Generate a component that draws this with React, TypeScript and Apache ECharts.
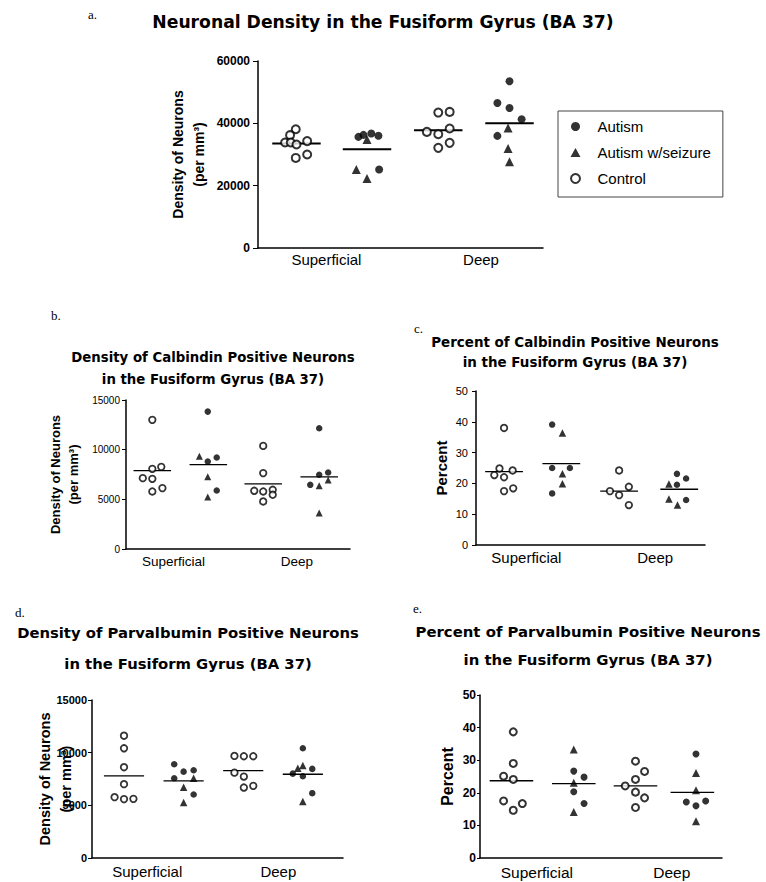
import React, { useEffect, useRef } from 'react';
import * as echarts from 'echarts';

type Pt = [number, number];

// ---- shared ----
const categories = ['Superficial', 'Deep'];
const groupNames = ['Autism', 'Autism w/seizure', 'Control'];

// ---- panel a: Neuronal density ----
const aControl: Pt[] = [
  [0.53, 38100], [0.45, 36200], [0.38, 33850], [0.46, 33850], [0.54, 33200], [0.69, 34300], [0.53, 28900], [0.69, 30000],
  [2.53, 43460], [2.69, 43660], [2.37, 37250], [2.53, 36510], [2.69, 38340], [2.53, 32130], [2.69, 33730],
];
const aAutism: Pt[] = [
  [1.41, 35650], [1.48, 36300], [1.59, 36750], [1.69, 36000], [1.70, 25200],
  [3.53, 53490], [3.36, 46550], [3.53, 44940], [3.70, 41320], [3.36, 35970],
];
const aSeizure: Pt[] = [
  [1.53, 34800], [1.38, 25200], [1.53, 22300],
  [3.51, 38530], [3.51, 31930], [3.53, 27640],
];
const aMeans: Pt[] = [[0.54, 33500], [1.53, 31700], [2.53, 37800], [3.53, 40000]];
const aLabelPos = [0.96, 3.13];

// ---- panel b: Density of calbindin ----
const bControl: Pt[] = [
  [0.47, 13000], [0.47, 8070], [0.63, 8270], [0.30, 7135], [0.47, 7065], [0.47, 5790], [0.65, 6130],
  [2.45, 10380], [2.45, 7640], [2.29, 5860], [2.45, 5790], [2.62, 5960], [2.62, 5460], [2.45, 4785],
];
const bAutism: Pt[] = [
  [1.46, 13830], [1.46, 8805], [1.62, 9210], [1.62, 5890],
  [3.45, 12160], [3.45, 7470], [3.61, 7700], [3.29, 6460],
];
const bSeizure: Pt[] = [
  [1.31, 9345], [1.46, 7265], [1.46, 5225],
  [3.61, 6935], [3.45, 6360], [3.45, 3620],
];
const bMeans: Pt[] = [[0.47, 7900], [1.47, 8500], [2.45, 6560], [3.45, 7260]];
const bLabelPos = [0.85, 3.05];

// ---- panel c: Percent of calbindin ----
const cControl: Pt[] = [
  [0.49, 38.0], [0.41, 24.85], [0.64, 24.2], [0.32, 22.7], [0.49, 22.0], [0.49, 17.5], [0.65, 18.4],
  [2.50, 24.2], [2.34, 17.5], [2.67, 18.9], [2.50, 16.2], [2.67, 12.96],
];
const cAutism: Pt[] = [
  [1.33, 39.1], [1.33, 25.0], [1.64, 25.0], [1.33, 16.75],
  [3.51, 23.1], [3.67, 21.6], [3.51, 19.55], [3.67, 14.6],
];
const cSeizure: Pt[] = [
  [1.51, 36.4], [1.51, 23.1], [1.51, 19.9],
  [3.37, 19.8], [3.37, 14.9], [3.52, 12.96],
];
const cMeans: Pt[] = [[0.49, 23.8], [1.49, 26.4], [2.50, 17.5], [3.55, 18.1]];
const cLabelPos = [0.88, 3.13];

// ---- panel d: Density of parvalbumin ----
const dControl: Pt[] = [
  [0.51, 11610], [0.51, 10415], [0.51, 8620], [0.51, 7010], [0.36, 5775], [0.51, 5590], [0.66, 5615],
  [2.27, 9690], [2.42, 9660], [2.57, 9660], [2.27, 8105], [2.42, 7730], [2.42, 6690], [2.57, 6850],
];
const dAutism: Pt[] = [
  [1.31, 8900], [1.46, 8200], [1.62, 8330], [1.31, 7575], [1.62, 6025],
  [3.36, 10415], [3.51, 8460], [3.20, 8010], [3.36, 7765], [3.51, 6155],
];
const dSeizure: Pt[] = [
  [1.62, 7575], [1.46, 6725], [1.46, 5265],
  [3.36, 8770], [3.28, 8520], [3.36, 5360],
];
const dMeans: Pt[] = [[0.51, 7800], [1.46, 7320], [2.41, 8300], [3.36, 7950]];
const dLabelPos = [0.88, 2.97];

// ---- panel e: Percent of parvalbumin ----
const eControl: Pt[] = [
  [0.55, 38.7], [0.55, 29.0], [0.39, 25.1], [0.55, 24.1], [0.39, 17.5], [0.70, 16.7], [0.55, 14.65],
  [2.57, 29.7], [2.72, 26.55], [2.57, 24.1], [2.40, 22.1], [2.57, 20.2], [2.72, 18.45], [2.57, 15.5],
];
const eAutism: Pt[] = [
  [1.55, 26.65], [1.72, 24.8], [1.55, 20.3], [1.72, 16.7],
  [3.57, 31.9], [3.41, 17.2], [3.73, 17.5], [3.57, 16.0],
];
const eSeizure: Pt[] = [
  [1.55, 33.3], [1.55, 23.05], [1.55, 14.1],
  [3.57, 26.1], [3.57, 20.8], [3.57, 11.3],
];
const eMeans: Pt[] = [[0.52, 23.7], [1.55, 22.8], [2.57, 22.1], [3.51, 20.1]];
const eLabelPos = [0.94, 3.17];

const yName = 'Density of Neurons\n(per mm³)';

const SANS = '"Liberation Sans", Arial, sans-serif';
const WIDE = '"DejaVu Sans", Verdana, sans-serif';
const SERIF = '"Liberation Serif", "Times New Roman", serif';

const panels = [
  {
    control: aControl, autism: aAutism, seizure: aSeizure, means: aMeans, labelPos: aLabelPos,
    yMax: 60000, yInterval: 20000, name: yName,
    grid: { left: 258, top: 61, width: 285, height: 187 },
    nameSize: 14, nameLH: 21, nameGap: 49,
    tickSize: 12, tickWeight: 'bold', tickMargin: 8, tickLen: 5,
    xSize: 15, xMargin: 4,
    sym: 8, ring: 2, tri: 9, meanW: 2, hw: 0.34,
  },
  {
    control: bControl, autism: bAutism, seizure: bSeizure, means: bMeans, labelPos: bLabelPos,
    yMax: 15000, yInterval: 5000, name: yName,
    grid: { left: 126, top: 400, width: 224, height: 149 },
    nameSize: 13, nameLH: 18, nameGap: 44,
    tickSize: 10, tickWeight: 'normal', tickMargin: 6, tickLen: 4,
    xSize: 13.5, xMargin: 5,
    sym: 6.5, ring: 1.8, tri: 7, meanW: 1.3, hw: 0.335,
  },
  {
    control: cControl, autism: cAutism, seizure: cSeizure, means: cMeans, labelPos: cLabelPos,
    yMax: 50, yInterval: 10, name: 'Percent',
    grid: { left: 476, top: 391, width: 229, height: 154 },
    nameSize: 15, nameLH: 18, nameGap: 26,
    tickSize: 11, tickWeight: 'normal', tickMargin: 8, tickLen: 4,
    xSize: 15, xMargin: 5,
    sym: 6.5, ring: 1.8, tri: 7.5, meanW: 1.3, hw: 0.33,
  },
  {
    control: dControl, autism: dAutism, seizure: dSeizure, means: dMeans, labelPos: dLabelPos,
    yMax: 15000, yInterval: 5000, name: yName,
    grid: { left: 92, top: 700, width: 251, height: 158 },
    nameSize: 14.5, nameLH: 21.5, nameGap: 15,
    tickSize: 11, tickWeight: 'bold', tickMargin: 5, tickLen: 4,
    xSize: 15, xMargin: 6,
    sym: 6.5, ring: 1.8, tri: 7.5, meanW: 1.3, hw: 0.32,
  },
  {
    control: eControl, autism: eAutism, seizure: eSeizure, means: eMeans, labelPos: eLabelPos,
    yMax: 50, yInterval: 10, name: 'Percent',
    grid: { left: 480, top: 695, width: 242, height: 163 },
    nameSize: 16, nameLH: 18, nameGap: 24,
    tickSize: 12, tickWeight: 'bold', tickMargin: 4, tickLen: 3,
    xSize: 15.5, xMargin: 6,
    sym: 7, ring: 2, tri: 8, meanW: 1.3, hw: 0.36,
  },
];

const titles = [
  { lines: ['Neuronal Density in the Fusiform Gyrus (BA 37)'], x: 383, y: [22], size: 17.2 },
  { lines: ['Density of Calbindin Positive Neurons', 'in the Fusiform Gyrus (BA 37)'], x: 213, y: [357, 379], size: 13.3 },
  { lines: ['Percent of Calbindin Positive Neurons', 'in the Fusiform Gyrus (BA 37)'], x: 575, y: [342, 362], size: 13.45 },
  { lines: ['Density of Parvalbumin Positive Neurons', 'in the Fusiform Gyrus (BA 37)'], x: 188, y: [632, 663], size: 14.8 },
  { lines: ['Percent of Parvalbumin Positive Neurons', 'in the Fusiform Gyrus (BA 37)'], x: 588, y: [632, 660], size: 14.9 },
];

const letters = [
  { t: 'a.', x: 88, y: 14 },
  { t: 'b.', x: 51, y: 315 },
  { t: 'c.', x: 414, y: 328 },
  { t: 'd.', x: 15, y: 612 },
  { t: 'e.', x: 413, y: 608 },
];

function buildOption(): any {
  const grid = panels.map((p) => ({ ...p.grid, containLabel: false, outerBoundsMode: 'none' }));
  const xAxis = panels.map((p, i) => ({
    gridIndex: i,
    type: 'value',
    min: 0,
    max: 4,
    axisLine: { show: true, onZero: false, lineStyle: { color: '#000', width: 1.5 } },
    axisTick: { show: false },
    splitLine: { show: false },
    axisLabel: {
      customValues: p.labelPos,
      formatter: (v: number) => (v < 2 ? categories[0] : categories[1]),
      color: '#000',
      fontSize: p.xSize,
      fontFamily: SANS,
      margin: p.xMargin,
    },
  }));
  const yAxis = panels.map((p, i) => ({
    gridIndex: i,
    type: 'value',
    min: 0,
    max: p.yMax,
    interval: p.yInterval,
    axisLine: { show: true, onZero: false, lineStyle: { color: '#000', width: 1.5 } },
    axisTick: { show: true, length: p.tickLen, lineStyle: { color: '#000', width: 1 } },
    splitLine: { show: false },
    axisLabel: {
      formatter: (v: number) => String(v),
      color: '#000',
      fontSize: p.tickSize,
      fontWeight: p.tickWeight,
      fontFamily: SANS,
      margin: p.tickMargin,
    },
    name: p.name,
    nameLocation: 'middle',
    nameRotate: 90,
    nameGap: p.nameGap,
    nameMoveOverlap: false,
    nameTextStyle: {
      color: '#000',
      fontSize: p.nameSize,
      fontWeight: 'bold',
      fontFamily: SANS,
      lineHeight: p.nameLH,
    },
  }));

  const series: any[] = [];
  panels.forEach((p, i) => {
    series.push({
      type: 'custom',
      name: 'mean',
      xAxisIndex: i,
      yAxisIndex: i,
      data: p.means,
      silent: true,
      z: 1,
      renderItem: (_params: any, api: any) => {
        const c = api.value(0);
        const m = api.value(1);
        const a = api.coord([c - p.hw, m]);
        const b = api.coord([c + p.hw, m]);
        return {
          type: 'line',
          shape: { x1: a[0], y1: a[1], x2: b[0], y2: b[1] },
          style: { stroke: '#000', lineWidth: p.meanW },
        };
      },
    });
    series.push({
      type: 'scatter',
      name: groupNames[2],
      xAxisIndex: i,
      yAxisIndex: i,
      data: p.control,
      symbol: 'circle',
      symbolSize: p.sym,
      itemStyle: { color: '#fff', borderColor: '#000', borderWidth: p.ring },
      silent: true,
      z: 3,
    });
    series.push({
      type: 'scatter',
      name: groupNames[0],
      xAxisIndex: i,
      yAxisIndex: i,
      data: p.autism,
      symbol: 'circle',
      symbolSize: p.sym,
      itemStyle: { color: '#000' },
      silent: true,
      z: 3,
    });
    series.push({
      type: 'scatter',
      name: groupNames[1],
      xAxisIndex: i,
      yAxisIndex: i,
      data: p.seizure,
      symbol: 'triangle',
      symbolSize: p.tri,
      itemStyle: { color: '#000' },
      silent: true,
      z: 3,
    });
  });

  const graphic: any[] = [];
  titles.forEach((t) => {
    t.lines.forEach((line, k) => {
      graphic.push({
        type: 'text',
        x: t.x,
        y: t.y[k],
        style: {
          text: line,
          align: 'center',
          verticalAlign: 'middle',
          fontSize: t.size,
          fontWeight: 'bold',
          fontFamily: WIDE,
          fill: '#000',
        },
      });
    });
  });
  letters.forEach((l) => {
    graphic.push({
      type: 'text',
      x: l.x,
      y: l.y,
      style: { text: l.t, align: 'left', verticalAlign: 'middle', fontSize: 13, fontFamily: SERIF, fill: '#000' },
    });
  });

  return {
    animation: false,
    backgroundColor: '#fff',
    grid,
    xAxis,
    yAxis,
    series,
    graphic,
    legend: {
      data: [
        { name: groupNames[0], icon: 'circle' },
        { name: groupNames[1], icon: 'triangle' },
        { name: groupNames[2], icon: 'circle' },
      ],
      orient: 'vertical',
      left: 558,
      top: 111,
      padding: [8, 12, 11, 12],
      itemWidth: 10,
      itemHeight: 9,
      itemGap: 11,
      borderColor: '#444',
      borderWidth: 1,
      selectedMode: false,
      textStyle: { fontSize: 15, color: '#000', fontFamily: SANS, padding: [0, 0, 0, 12] },
    },
  };
}

export default function App() {
  const ref = useRef<HTMLDivElement>(null);
  useEffect(() => {
    if (!ref.current) return;
    const chart = echarts.init(ref.current, null, { renderer: 'svg' });
    chart.setOption(buildOption());
    return () => chart.dispose();
  }, []);
  return (
    <div
      ref={ref}
      style={{ position: 'absolute', left: 0, top: 0, width: 766, height: 882, background: '#fff' }}
    />
  );
}
